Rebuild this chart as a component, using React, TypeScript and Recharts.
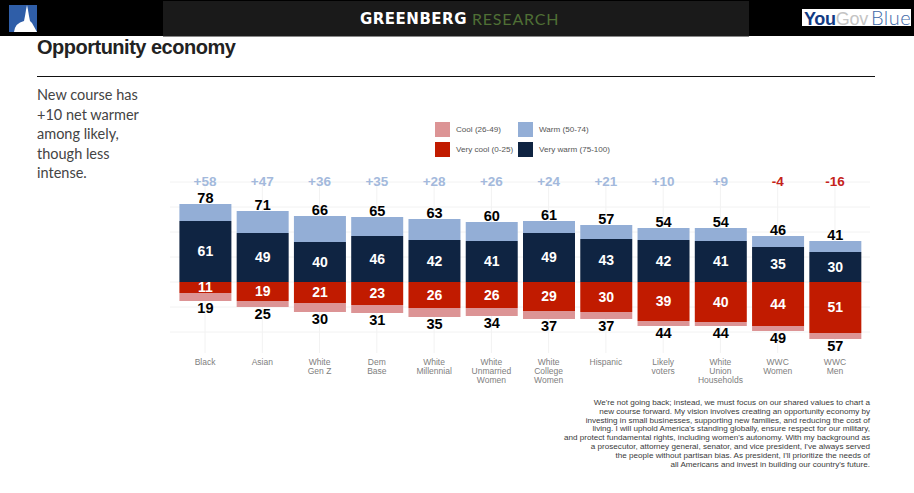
import { Bar, BarChart, CartesianGrid, LabelList, XAxis, YAxis } from 'recharts';

const categories = [
    'Black',
    'Asian',
    'White\nGen Z',
    'Dem\nBase',
    'White\nMillennial',
    'White\nUnmarried\nWomen',
    'White\nCollege\nWomen',
    'Hispanic',
    'Likely\nvoters',
    'White\nUnion\nHouseholds',
    'WWC\nWomen',
    'WWC\nMen',
];
const netLabels = ['+58', '+47', '+36', '+35', '+28', '+26', '+24', '+21', '+10', '+9', '-4', '-16'];
const veryWarm = [61, 49, 40, 46, 42, 41, 49, 43, 42, 41, 35, 30];
const warmTotal = [78, 71, 66, 65, 63, 60, 61, 57, 54, 54, 46, 41];
const veryCool = [11, 19, 21, 23, 26, 26, 29, 30, 39, 40, 44, 51];
const coolTotal = [19, 25, 30, 31, 35, 34, 37, 37, 44, 44, 49, 57];
const gridTicks = [-50, -25, 0, 25, 50, 75, 100];

const colors = {
    cool: '#dc9495',
    veryCool: '#c11b00',
    warm: '#93aed6',
    veryWarm: '#0f2442',
};

const legendItems = [
    { label: 'Cool (26-49)', color: colors.cool, x: 435, y: 122 },
    { label: 'Warm (50-74)', color: colors.warm, x: 518, y: 122 },
    { label: 'Very cool (0-25)', color: colors.veryCool, x: 435, y: 142 },
    { label: 'Very warm (75-100)', color: colors.veryWarm, x: 518, y: 142 },
];

const introLines = ['New course has', '+10 net warmer', 'among likely,', 'though less', 'intense.'];
const quoteLines = [
    "We're not going back; instead, we must focus on our shared values to chart a",
    'new course forward. My vision involves creating an opportunity economy by',
    'investing in small businesses, supporting new families, and reducing the cost of',
    "living. I will uphold America's standing globally, ensure respect for our military,",
    "and protect fundamental rights, including women's autonomy. With my background as",
    "a prosecutor, attorney general, senator, and vice president, I've always served",
    "the people without partisan bias. As president, I'll prioritize the needs of",
    "all Americans and invest in building our country's future.",
];

const data = categories.map((category, index) => ({
    category,
    net: netLabels[index],
    veryWarm: veryWarm[index],
    warm: warmTotal[index] - veryWarm[index],
    warmTotal: warmTotal[index],
    veryCool: -veryCool[index],
    cool: -(coolTotal[index] - veryCool[index]),
    coolTotal: coolTotal[index],
}));

const sans = '"Liberation Sans", Arial, sans-serif';

function CategoryTick({ x, y, payload }: any) {
    const lines = String(payload.value).split('\n');
    return (
        <text x={x} y={y + 4} textAnchor="middle" fontFamily={sans} fontSize={8.5} fill="#808080">
            {lines.map((line, index) => (
                <tspan key={line} x={x} dy={index === 0 ? 0 : 9}>
                    {line}
                </tspan>
            ))}
        </text>
    );
}

function NetTick({ x, payload }: any) {
    const negative = String(payload.value).startsWith('-');
    return (
        <text x={x} y={186} textAnchor="middle" fontFamily={sans} fontSize={13.5} fontWeight={700} fill={negative ? '#c5221a' : '#a3b9dc'}>
            {payload.value}
        </text>
    );
}

// the position="bottom" label lands inside the negative bars, so place it by hand
function BottomTotal({ x, y, width, height, value }: any) {
    return (
        <text x={x + width / 2} y={Math.max(y, y + height) + 12} textAnchor="middle" fontFamily={sans} fontSize={14.5} fontWeight={700} fill="#000000">
            {value}
        </text>
    );
}

const absolute = (value: number) => Math.abs(value);

export default function App() {
    return (
        <div style={{ position: 'absolute', left: 0, top: 0, width: 914, height: 493, background: '#ffffff', overflow: 'hidden', fontFamily: sans }}>
            <div style={{ position: 'absolute', left: 0, top: 0, width: 914, height: 36, background: '#000000' }} />
            <div style={{ position: 'absolute', left: 163, top: 1, width: 586, height: 35, background: '#1a1a1a', borderBottom: '1px solid #888888' }} />
            <svg style={{ position: 'absolute', left: 9, top: 5 }} width={28} height={27}>
                <rect width={28} height={27} fill="#2f5ea8" />
                <path d="M10 27 Q11 18 20 16 L21 11 L22 5 L23 0 L24 5 L25 11 L26 16 L28 18 L33 27 Z" transform="translate(-5 0)" fill="#ffffff" />
            </svg>
            <div style={{ position: 'absolute', left: 360, top: 11, fontFamily: '"DejaVu Sans"', fontSize: 15, lineHeight: '17px', fontWeight: 700, color: '#ffffff', whiteSpace: 'nowrap', letterSpacing: 0.5 }}>GREENBERG</div>
            <div style={{ position: 'absolute', left: 472, top: 10, fontFamily: 'Lato', fontSize: 16, lineHeight: '17px', fontWeight: 400, color: '#4f6f35', whiteSpace: 'nowrap', letterSpacing: 0.8 }}>RESEARCH</div>
            <div style={{ position: 'absolute', left: 802, top: 9, width: 109, height: 17, background: '#ffffff', lineHeight: '17px', fontSize: 18, whiteSpace: 'nowrap', letterSpacing: -0.3 }}>
                <span style={{ fontWeight: 700, color: '#123a82', marginLeft: 2 }}>You</span>
                <span style={{ color: '#c4c4c4' }}>Gov</span>
                <span style={{ color: '#3f6aa8', marginLeft: 3, fontFamily: 'Lato', fontWeight: 300, fontSize: 20, letterSpacing: 0.5 }}>Blue</span>
            </div>

            <div style={{ position: 'absolute', left: 37, top: 36, fontSize: 20, fontWeight: 700, color: '#222222', whiteSpace: 'nowrap', letterSpacing: -0.5 }}>Opportunity economy</div>
            <div style={{ position: 'absolute', left: 37, top: 76, width: 838, height: 1, background: '#111111' }} />

            <div style={{ position: 'absolute', left: 37, top: 85, fontFamily: 'Lato', fontSize: 14.5, lineHeight: '19.5px', color: '#444444', whiteSpace: 'nowrap' }}>
                {introLines.map((line) => (
                    <div key={line}>{line}</div>
                ))}
            </div>

            <BarChart
                width={914}
                height={493}
                data={data}
                stackOffset="sign"
                margin={{ top: 162, right: 44, bottom: 100, left: 170 }}
                style={{ position: 'absolute', left: 0, top: 0 }}
            >
                <CartesianGrid stroke="#f2f2f2" strokeWidth={1} syncWithTicks />
                <XAxis
                    xAxisId="net"
                    dataKey="net"
                    orientation="top"
                    height={20}
                    axisLine={false}
                    tickLine={false}
                    interval={0}
                    tick={<NetTick />}
                    padding={{ left: 6.4, right: 6.4 }}
                />
                <XAxis
                    dataKey="category"
                    height={40}
                    axisLine={false}
                    tickLine={false}
                    interval={0}
                    tick={<CategoryTick />}
                    padding={{ left: 6.4, right: 6.4 }}
                />
                <YAxis hide domain={[-71, 100]} ticks={gridTicks} />
                <Bar dataKey="veryWarm" stackId="rating" fill={colors.veryWarm} barSize={52} isAnimationActive={false}>
                    <LabelList dataKey="veryWarm" position="center" fill="#ffffff" fontFamily={sans} fontSize={14} fontWeight={700} />
                </Bar>
                <Bar dataKey="warm" stackId="rating" fill={colors.warm} barSize={52} isAnimationActive={false}>
                    <LabelList dataKey="warmTotal" position="top" offset={1} fill="#000000" fontFamily={sans} fontSize={14.5} fontWeight={700} />
                </Bar>
                <Bar dataKey="veryCool" stackId="rating" fill={colors.veryCool} barSize={52} isAnimationActive={false}>
                    <LabelList dataKey="veryCool" position="center" formatter={absolute} fill="#ffffff" fontFamily={sans} fontSize={14} fontWeight={700} />
                </Bar>
                <Bar dataKey="cool" stackId="rating" fill={colors.cool} barSize={52} isAnimationActive={false}>
                    <LabelList dataKey="coolTotal" content={<BottomTotal />} />
                </Bar>
            </BarChart>

            {legendItems.map((item) => (
                <div key={item.label}>
                    <div style={{ position: 'absolute', left: item.x, top: item.y, width: 15, height: 15, background: item.color }} />
                    <div style={{ position: 'absolute', left: item.x + 21, top: item.y + 2, fontSize: 8.1, lineHeight: '11px', color: '#555555', whiteSpace: 'nowrap' }}>{item.label}</div>
                </div>
            ))}

            <div style={{ position: 'absolute', right: 44, top: 399, fontSize: 8.1, lineHeight: '8.8px', color: '#3a3a3a', textAlign: 'right', whiteSpace: 'nowrap' }}>
                {quoteLines.map((line) => (
                    <div key={line}>{line}</div>
                ))}
            </div>
        </div>
    );
}
